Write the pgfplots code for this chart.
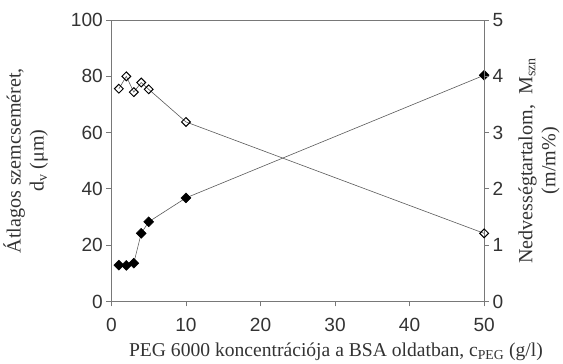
\documentclass[border=0pt]{standalone}
\usepackage{pgfplots}
\pgfplotsset{compat=1.18}
\usepackage{fontspec}
\setmainfont{Liberation Serif}
\newfontfamily\arial{Liberation Sans}
\definecolor{axgray}{RGB}{120,120,120}
\definecolor{lngray}{RGB}{90,90,90}
\begin{document}
\begin{tikzpicture}
\pgfplotsset{
  myax/.style={
    scale only axis, width=371pt, height=280pt,
    xmin=0, xmax=50,
    tick label style={font=\arial\fontsize{19}{19}\selectfont, text=black!80},
    /pgf/number format/assume math mode=true,
    axis line style={draw=axgray, line width=1.1pt},
    major tick length=5pt,
    tick align=outside,
    major tick style={draw=axgray, line width=0.9pt},
    label style={font=\fontsize{20}{23}\selectfont, text=black!80},
    every axis plot/.append style={draw=lngray, line width=0.6pt},
  }
}
\begin{axis}[myax,
  axis y line*=left, axis x line*=bottom,
  ymin=0, ymax=100, ytick={0,20,...,100},
  xtick={0,10,...,50},
  xticklabel style={yshift=-8pt},
  ylabel={Átlagos szemcseméret,\\ d\textsubscript{v} (μm)},
  ylabel style={align=center, yshift=16pt},
  xlabel={\fontsize{19.5}{23}\selectfont PEG 6000 koncentrációja a BSA oldatban, c\textsubscript{PEG} (g/l)},
  xlabel style={yshift=-4pt, xshift=38pt},
  clip=false,
]
\addplot[mark=square*, mark size=3.5pt, mark options={fill=black, draw=black, rotate=45, line width=0.5pt}]
  coordinates {(1,12.9) (2,12.8) (3,13.6) (4,24.2) (5,28.3) (10,36.8) (50,80.4)};
\path (rel axis cs:0,1) ++(0,20pt);
\end{axis}
\begin{axis}[myax,
  axis y line*=right, axis x line*=top,
  xtick=\empty,
  ymin=0, ymax=5, ytick={0,1,...,5},
  ylabel={Nedvességtartalom,\ \ M\textsubscript{szn}\\(m/m\%)},
  ylabel style={align=center, yshift=-8pt},
]
\addplot[mark=square, mark size=3.1pt, mark options={fill=white, draw=black, rotate=45, line width=1pt}]
  coordinates {(1,3.78) (2,4.0) (3,3.72) (4,3.89) (5,3.77) (10,3.19) (50,1.21)};
\end{axis}
\end{tikzpicture}
\end{document}
